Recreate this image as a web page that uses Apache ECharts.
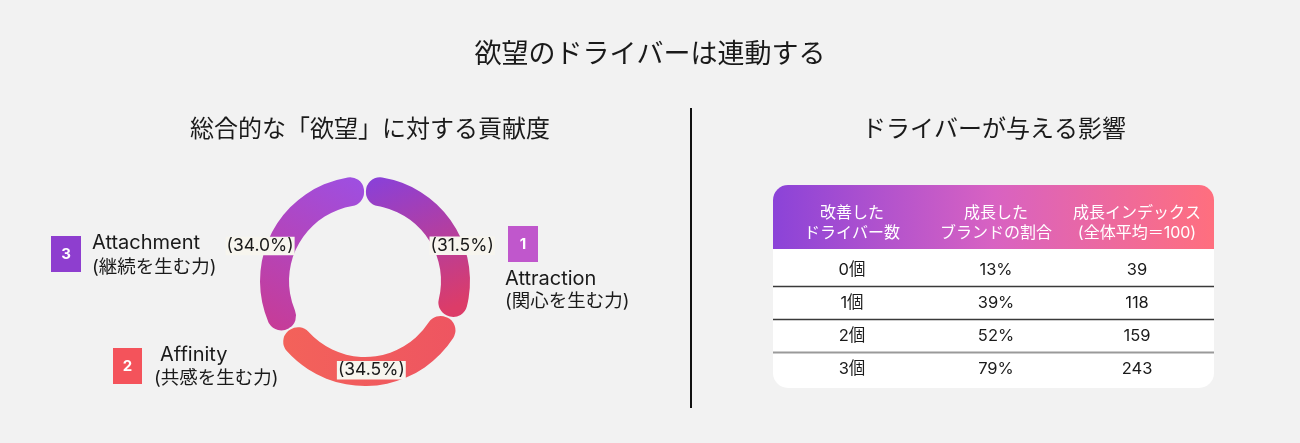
<!DOCTYPE html>
<html>
<head>
<meta charset="utf-8">
<title>欲望のドライバーは連動する</title>
<script src="https://cdn.jsdelivr.net/npm/echarts@6/dist/echarts.min.js"></script>
<style>
  html, body { margin: 0; padding: 0; background: #f2f2f2; }
  #chart { width: 1300px; height: 443px; }
</style>
</head>
<body>
<div id="chart"></div>
<script>
// data
const driverNames = ['Attraction', 'Affinity', 'Attachment'];
const driverSubs = ['(関心を生む力)', '(共感を生む力)', '(継続を生む力)'];
const driverRanks = ['1', '2', '3'];
const driverShares = [31.5, 34.5, 34.0];

const tableHeaders = ['改善した\nドライバー数', '成長した\nブランドの割合', '成長インデックス\n(全体平均＝100)'];
const improvedCounts = ['0個', '1個', '2個', '3個'];
const growthShares = ['13%', '39%', '52%', '79%'];
const growthIndex = [39, 118, 159, 243];

const FONT = 'Inter, "Noto Sans CJK JP", sans-serif';
const G = echarts.graphic;

// segment colours (per driver)
const segmentColors = [
    new G.LinearGradient(0.1, 0, 0.6, 1, [
        { offset: 0, color: '#8a40d8' }, { offset: 1, color: '#dc3c68' }]),
    new G.LinearGradient(0, 0, 1, 0, [
        { offset: 0, color: '#f3625a' }, { offset: 1, color: '#ee5561' }]),
    new G.LinearGradient(1, 0, 0.2, 1, [
        { offset: 0, color: '#9d4fe3' }, { offset: 1, color: '#c63c98' }])
];
const rankColors = ['#c057cc', '#f4535b', '#8e3ecf'];
// nudges of the percent labels from the ring middle
const labelNudge = [[19, 16], [-1, -4], [-23, 10]];
// numbered note boxes: [boxX, boxY, boxW, boxH, textX, nameY, subY, subX]
const notePlace = [
    [508, 226, 30, 36, 505, 279, 301, 505],
    [113, 348, 29, 36, 160, 355, 378, 154],
    [51, 236, 30, 36, 92, 243, 267, 92]
];

function text(x, y, str, size, color, align, weight) {
    return {
        type: 'text',
        silent: true,
        style: {
            text: str, x: x, y: y,
            font: (weight || 'normal') + ' ' + size + 'px ' + FONT,
            fill: color,
            textAlign: align || 'center',
            textVerticalAlign: 'middle'
        }
    };
}

const graphics = [];
graphics.push(text(650, 55, '欲望のドライバーは連動する', 27, '#1a1a1a'));
graphics.push(text(370, 130, '総合的な「欲望」に対する貢献度', 24, '#1a1a1a'));
graphics.push(text(994, 130, 'ドライバーが与える影響', 24, '#1a1a1a'));
graphics.push({
    type: 'line', silent: true,
    shape: { x1: 691, y1: 108, x2: 691, y2: 408 },
    style: { stroke: '#111', lineWidth: 2 }
});

// note boxes next to the donut
driverNames.forEach(function (name, i) {
    const p = notePlace[i];
    graphics.push({
        type: 'rect', silent: true,
        shape: { x: p[0], y: p[1], width: p[2], height: p[3] },
        style: { fill: rankColors[i] }
    });
    graphics.push(text(p[0] + p[2] / 2, p[1] + p[3] / 2, driverRanks[i], 15, '#fff', 'center', 'bold'));
    graphics.push(text(p[4], p[5], name, 20, '#1a1a1a', 'left'));
    graphics.push(text(p[7], p[6], driverSubs[i], 18.5, '#1a1a1a', 'left'));
});

// table
const tb = { x: 773, y: 185, w: 441, h: 203, head: 64, r: 15 };
const colX = [852, 996, 1137];
const rowY = [270, 303, 336, 369];
graphics.push({
    type: 'rect', silent: true,
    shape: { x: tb.x, y: tb.y, width: tb.w, height: tb.h, r: tb.r },
    style: { fill: '#fff' }
});
graphics.push({
    type: 'rect', silent: true,
    shape: { x: tb.x, y: tb.y, width: tb.w, height: tb.head, r: [tb.r, tb.r, 0, 0] },
    style: {
        fill: new G.LinearGradient(0, 0, 1, 0, [
            { offset: 0, color: '#8b43d8' },
            { offset: 0.5, color: '#d862c2' },
            { offset: 1, color: '#ff6f7e' }])
    }
});
tableHeaders.forEach(function (h, c) {
    const t = text(colX[c], tb.y + tb.head / 2 + 6, h, 16, '#fff');
    t.style.lineHeight = 20;
    graphics.push(t);
});
const lineYs = [286.5, 319.5, 352.5];
lineYs.forEach(function (ly, k) {
    graphics.push({
        type: 'line', silent: true,
        shape: { x1: tb.x, y1: ly, x2: tb.x + tb.w, y2: ly },
        style: { stroke: k === 2 ? '#9a9a9a' : '#3a3a3a', lineWidth: k === 2 ? 2 : 1.5 }
    });
});
improvedCounts.forEach(function (cnt, r) {
    graphics.push(text(colX[0], rowY[r], cnt, 16.5, '#1a1a1a'));
    graphics.push(text(colX[1], rowY[r], growthShares[r], 16.5, '#1a1a1a'));
    graphics.push(text(colX[2], rowY[r], String(growthIndex[r]), 16.5, '#1a1a1a'));
});

const chart = echarts.init(document.getElementById('chart'));
chart.setOption({
    backgroundColor: '#f2f2f2',
    animation: false,
    textStyle: { fontFamily: FONT },
    series: [{
        type: 'pie',
        center: [365, 281],
        radius: [76, 105],
        startAngle: 90,
        clockwise: true,
        padAngle: 1.2,
        itemStyle: { borderRadius: 14 },
        emphasis: { disabled: true },
        label: {
            show: true,
            position: 'inside',
            formatter: function (p) { return '(' + p.value.toFixed(1) + '%)'; },
            fontFamily: FONT,
            fontSize: 17.5,
            color: '#1a1a1a',
            backgroundColor: '#f7f5ee',
            padding: [1, 1, 0, 1]
        },
        labelLayout: function (p) {
            return { dx: labelNudge[p.dataIndex][0], dy: labelNudge[p.dataIndex][1] };
        },
        data: driverNames.map(function (n, i) {
            return { name: n, value: driverShares[i], itemStyle: { color: segmentColors[i] } };
        })
    }],
    graphic: graphics
});
</script>
</body>
</html>
